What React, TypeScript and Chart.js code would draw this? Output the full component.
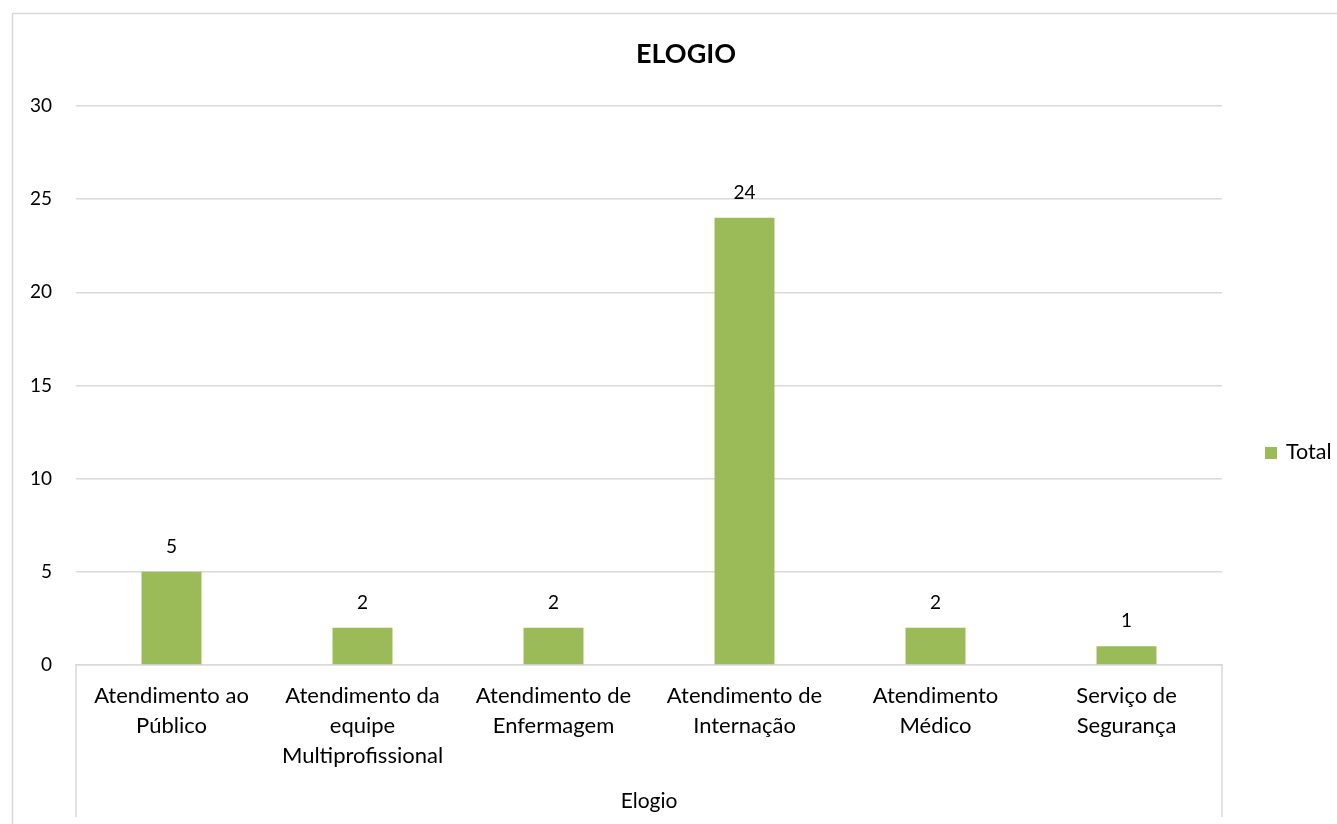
import React, { useEffect, useRef } from "react";
import { Chart, registerables } from "chart.js";

Chart.register(...registerables);

const categories: string[][] = [
  ["Atendimento ao", "Público"],
  ["Atendimento da", "equipe", "Multiprofissional"],
  ["Atendimento de", "Enfermagem"],
  ["Atendimento de", "Internação"],
  ["Atendimento", "Médico"],
  ["Serviço de", "Segurança"],
];
const totals: number[] = [5, 2, 2, 24, 2, 1];
const seriesName = "Total";
const chartTitle = "ELOGIO";
const groupLabel = "Elogio";

const FONT = "Lato, 'Noto Sans', sans-serif";
const GREEN = "#9BBB59";
const GRID = "#d9d9d9";

const decorPlugin = {
  id: "decor",
  beforeDraw(chart: any) {
    const ctx = chart.ctx;
    ctx.save();
    ctx.fillStyle = "#ffffff";
    ctx.fillRect(0, 0, chart.width, chart.height);
    ctx.strokeStyle = GRID;
    ctx.lineWidth = 1.5;
    ctx.beginPath();
    ctx.moveTo(12.5, chart.height);
    ctx.lineTo(12.5, 13.5);
    ctx.lineTo(chart.width, 13.5);
    ctx.stroke();
    ctx.restore();
  },
  afterDraw(chart: any) {
    const ctx = chart.ctx;
    const area = chart.chartArea;
    ctx.save();
    // category group borders
    ctx.strokeStyle = GRID;
    ctx.lineWidth = 1.5;
    ctx.beginPath();
    ctx.moveTo(area.left, area.bottom);
    ctx.lineTo(area.left, 817);
    ctx.moveTo(area.right, area.bottom);
    ctx.lineTo(area.right, 817);
    ctx.stroke();

    // title
    ctx.fillStyle = "#000000";
    ctx.font = `bold 27px ${FONT}`;
    ctx.textAlign = "center";
    ctx.textBaseline = "alphabetic";
    ctx.fillText(chartTitle, 686, 63);

    // group label
    ctx.font = `21px ${FONT}`;
    ctx.fillStyle = "#000000";
    ctx.fillText(groupLabel, (area.left + area.right) / 2, 808);

    // data labels
    ctx.font = `19px ${FONT}`;
    const meta = chart.getDatasetMeta(0);
    meta.data.forEach((bar: any, i: number) => {
      ctx.fillText(String(totals[i]), bar.x, bar.y - 19);
    });

    // legend
    ctx.fillStyle = GREEN;
    ctx.fillRect(1265, 447, 12, 12);
    ctx.fillStyle = "#000000";
    ctx.textAlign = "left";
    ctx.font = `21.5px ${FONT}`;
    ctx.fillText(seriesName, 1286, 459);
    ctx.restore();
  },
};

export default function App() {
  const ref = useRef<HTMLCanvasElement | null>(null);
  useEffect(() => {
    if (!ref.current) return;
    const chart = new Chart(ref.current, {
      type: "bar",
      data: {
        labels: categories,
        datasets: [
          {
            label: seriesName,
            data: totals,
            backgroundColor: GREEN,
            borderWidth: 0,
            categoryPercentage: 1,
            barPercentage: 0.314,
          },
        ],
      },
      options: {
        animation: false,
        responsive: true,
        maintainAspectRatio: false,
        layout: { padding: { left: 0, right: 115, top: 106, bottom: 0 } },
        plugins: {
          legend: { display: false },
          title: { display: false },
          tooltip: { enabled: false },
        },
        scales: {
          x: {
            grid: { display: false, drawTicks: false },
            border: { display: true, color: GRID, width: 1.5 },
            ticks: {
              color: "#000000",
              font: { family: FONT, size: 22, lineHeight: 30 / 22 },
              padding: 16,
              maxRotation: 0,
              autoSkip: false,
            },
            afterFit(scale: any) {
              scale.height = 824 - 665;
            },
          },
          y: {
            min: 0,
            max: 30,
            grid: { color: GRID, lineWidth: 1.5, drawTicks: false },
            border: { display: false },
            ticks: {
              stepSize: 5,
              color: "#000000",
              font: { family: FONT, size: 19 },
              padding: 24,
            },
            afterFit(scale: any) {
              scale.width = 76;
            },
          },
        },
      },
      plugins: [decorPlugin],
    });
    return () => chart.destroy();
  }, []);
  return (
    <div style={{ position: "fixed", left: 0, top: 0, width: 1337, height: 824, background: "#fff" }}>
      <canvas ref={ref} />
    </div>
  );
}
